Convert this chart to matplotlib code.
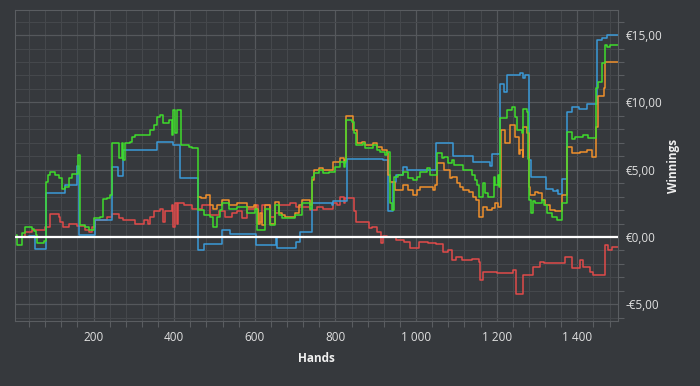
import numpy as np
import matplotlib.pyplot as plt
from matplotlib.ticker import MultipleLocator, FuncFormatter

plt.rcParams['font.family'] = ['Open Sans', 'DejaVu Sans']

# hand numbers / winnings (EUR), drawn as steps
blue_h = [5, 40, 55, 83, 130, 160, 165, 204, 245, 260, 274, 358, 398, 415, 458, 474,
          518, 538, 603, 653, 655, 703, 711, 741, 791, 795, 828, 919, 931, 942, 950,
          968, 977, 1050, 1091, 1142, 1184, 1188, 1207, 1219, 1225, 1258, 1264, 1270,
          1279, 1284, 1322, 1340, 1349, 1353, 1361, 1375, 1386, 1403, 1423, 1448, 1460,
          1473, 1500]
blue_v = [0.0, 0.05, -0.9, 3.24, 3.86, 5.3, 0.15, 1.25, 5.22, 4.5, 6.5, 7.07, 6.83, 4.35,
          -0.97, -0.52, 0.5, 0.26, -0.58, 0.0, -0.85, -0.35, 0.4, 2.5, 2.36, 2.64, 5.77,
          5.72, 1.9, 4.1, 4.6, 5.22, 4.97, 6.95, 6.0, 5.6, 5.3, 6.15, 11.4, 10.8, 12.0,
          12.2, 11.8, 12.03, 5.72, 4.48, 3.6, 3.4, 3.48, 3.18, 4.3, 9.3, 9.63, 9.5, 9.9,
          14.6, 14.75, 15.0, 15.0]

green_h = [5, 11, 22, 30, 47, 52, 57, 59, 76, 82, 86, 91, 105, 113, 121, 130, 138, 146,
           161, 167, 179, 188, 202, 216, 223, 233, 241, 245, 258, 262, 270, 274, 278,
           291, 295, 303, 324, 340, 349, 357, 365, 373, 386, 394, 397, 403, 407, 417,
           436, 445, 458, 473, 489, 497, 506, 514, 518, 535, 555, 580, 601, 605, 621,
           625, 638, 650, 659, 667, 700, 717, 737, 741, 746, 758, 770, 783, 799, 812,
           820, 824, 826, 840, 845, 851, 869, 873, 894, 902, 911, 923, 929, 934, 940,
           944, 956, 968, 981, 993, 1002, 1010, 1026, 1035, 1051, 1064, 1068, 1080,
           1089, 1093, 1117, 1138, 1146, 1150, 1155, 1165, 1171, 1179, 1192, 1196,
           1202, 1206, 1208, 1225, 1238, 1245, 1250, 1262, 1264, 1274, 1277, 1279,
           1284, 1291, 1295, 1312, 1316, 1324, 1336, 1349, 1361, 1375, 1386, 1394,
           1415, 1427, 1446, 1450, 1460, 1469, 1473, 1481, 1500]
green_v = [0.15, -0.6, 0.27, 0.78, 0.6, 0.42, 0.15, -0.44, -0.3, 4.1, 4.6, 4.85, 4.6,
           4.35, 3.6, 3.7, 4.35, 4.7, 6.08, 0.88, 0.75, 0.55, 1.4, 1.5, 2.8, 2.9, 3.1,
           7.0, 6.96, 5.84, 6.96, 5.72, 6.96, 7.08, 7.45, 7.57, 7.6, 7.95, 8.32, 8.9,
           9.06, 8.44, 8.69, 7.57, 9.43, 7.7, 9.43, 6.84, 6.71, 6.6, 2.0, 1.64, 1.5,
           0.77, 1.5, 2.0, 2.5, 2.1, 2.23, 1.75, 2.1, 0.5, 0.52, 2.1, 0.89, 2.36, 1.63,
           1.38, 1.63, 2.5, 2.1, 4.43, 4.73, 4.97, 4.73, 4.85, 5.22, 5.59, 5.22, 5.59,
           8.7, 8.57, 7.7, 6.84, 6.96, 6.6, 6.84, 6.46, 6.35, 6.1, 6.35, 2.5, 2.0, 4.43,
           4.6, 4.85, 4.35, 4.2, 4.48, 4.85, 5.1, 4.6, 6.22, 5.85, 5.97, 5.47, 5.72,
           5.35, 4.98, 4.6, 4.24, 3.86, 3.0, 3.98, 3.25, 3.0, 4.48, 3.86, 4.6, 3.74,
           8.81, 9.43, 9.68, 8.94, 7.95, 7.7, 9.5, 9.3, 5.8, 2.75, 1.76, 2.64, 2.5, 2.75,
           2.4, 1.76, 1.5, 1.27, 2.5, 7.83, 7.3, 7.44, 7.57, 7.32, 11.1, 11.5, 12.9,
           14.26, 14.1, 14.26, 14.26]

orange_h = [458, 466, 480, 489, 497, 506, 518, 535, 555, 580, 597, 603, 609, 613, 617,
            625, 638, 650, 659, 667, 675, 700, 709, 717, 737, 741, 746, 758, 770, 795,
            812, 820, 824, 826, 843, 853, 865, 873, 894, 902, 915, 927, 931, 935, 948,
            968, 981, 993, 1002, 1010, 1043, 1047, 1051, 1068, 1085, 1089, 1101, 1109,
            1117, 1130, 1142, 1149, 1155, 1167, 1175, 1188, 1196, 1204, 1210, 1221,
            1233, 1245, 1254, 1258, 1264, 1266, 1274, 1279, 1283, 1295, 1303, 1312,
            1320, 1332, 1345, 1361, 1375, 1386, 1407, 1423, 1436, 1446, 1452, 1465,
            1469, 1500]
orange_v = [2.97, 2.9, 3.1, 2.36, 2.06, 2.36, 2.74, 2.36, 2.5, 2.23, 2.36, 2.06, 1.0,
            1.75, 0.87, 2.36, 1.0, 2.6, 1.75, 1.63, 1.51, 1.75, 2.36, 2.74, 2.36, 4.2,
            4.97, 5.15, 4.97, 5.6, 5.84, 5.52, 5.72, 8.98, 7.95, 6.96, 7.08, 6.84, 6.96,
            6.71, 6.46, 6.22, 4.6, 4.1, 3.48, 3.86, 3.48, 3.1, 3.48, 3.74, 3.5, 3.86,
            5.47, 4.98, 4.36, 4.48, 4.0, 3.74, 3.5, 3.37, 3.0, 2.75, 1.51, 2.25, 2.0,
            2.12, 2.5, 2.25, 7.95, 6.96, 8.3, 7.45, 6.2, 6.46, 5.96, 8.2, 7.7, 3.74,
            3.12, 3.36, 3.25, 2.75, 2.4, 2.0, 1.9, 3.12, 6.7, 6.22, 6.34, 6.46, 5.96,
            8.2, 10.5, 11.1, 13.0, 13.0]

red_h = [5, 30, 47, 80, 91, 113, 117, 125, 138, 160, 179, 188, 196, 204, 233, 245, 262,
         274, 303, 324, 335, 340, 349, 365, 373, 378, 394, 398, 403, 407, 410, 425, 445,
         470, 489, 510, 526, 543, 555, 568, 580, 601, 609, 617, 638, 650, 659, 688, 703,
         737, 754, 770, 795, 804, 812, 820, 824, 845, 851, 869, 882, 890, 903, 912, 919,
         927, 950, 970, 985, 1008, 1030, 1050, 1067, 1080, 1088, 1100, 1113, 1138, 1155,
         1159, 1167, 1200, 1241, 1248, 1262, 1266, 1291, 1308, 1316, 1370, 1386, 1407,
         1415, 1432, 1440, 1465, 1469, 1477, 1485, 1500]
red_v = [0.0, 0.4, 0.52, 0.77, 1.74, 1.5, 1.14, 0.77, 1.0, 0.8, 0.52, 0.4, 0.77, 1.25,
         1.5, 1.7, 1.38, 1.25, 1.0, 1.25, 1.0, 1.5, 1.97, 2.1, 1.14, 1.97, 2.36, 0.77,
         2.5, 1.0, 2.5, 2.36, 2.1, 2.36, 1.63, 1.97, 1.5, 1.75, 1.97, 1.38, 2.1, 2.36,
         1.14, 2.36, 1.5, 1.75, 2.36, 2.5, 2.23, 2.0, 2.2, 2.1, 2.5, 2.36, 3.0, 2.5,
         2.87, 1.9, 1.09, 1.09, 0.64, 0.77, 0.4, -0.47, 0.1, 0.02, -0.22, -0.35, -0.84,
         -0.35, -0.47, -0.55, -1.09, -1.0, -1.71, -1.46, -1.71, -1.65, -1.83, -3.2,
         -2.57, -2.7, -2.45, -4.2, -4.2, -2.82, -2.2, -1.83, -1.95, -1.46, -2.33, -1.71,
         -2.2, -2.6, -2.82, -2.82, -0.59, -0.96, -0.72, -0.72]

bg = '#36393d'
fig = plt.figure(figsize=(7, 3.86), dpi=100, facecolor=bg)
ax = fig.add_axes([0.0214, 0.1676, 0.861, 0.8057], facecolor=bg)

ax.plot(red_h, red_v, color='#e04a4a', lw=1.1, drawstyle='steps-post')
ax.plot(blue_h, blue_v, color='#3b9ad8', lw=1.1, drawstyle='steps-post')
ax.plot(orange_h, orange_v, color='#f0902c', lw=1.1, drawstyle='steps-post')
ax.plot(green_h, green_v, color='#3fdc2c', lw=1.1, drawstyle='steps-post')
ax.axhline(0, color='white', lw=1.6, zorder=5)

ax.set_xlim(5, 1500)
ax.set_ylim(-6.26, 16.84)

ax.xaxis.set_major_locator(MultipleLocator(200))
ax.xaxis.set_minor_locator(MultipleLocator(40))
ax.yaxis.set_major_locator(MultipleLocator(5))
ax.yaxis.set_minor_locator(MultipleLocator(1))
ax.xaxis.set_major_formatter(FuncFormatter(lambda v, p: f'{int(v):,}'.replace(',', ' ')))
ax.yaxis.set_major_formatter(FuncFormatter(
    lambda v, p: ('-' if v < 0 else '') + '€' + f'{abs(v):.2f}'.replace('.', ',')))

ax.grid(which='major', color='#55585c', lw=0.9)
ax.grid(which='minor', color='#45484c', lw=0.8)
ax.set_axisbelow(True)

ax.yaxis.tick_right()
ax.yaxis.set_label_position('right')
ax.tick_params(which='both', colors='#5a5d61', labelcolor='#e0e0e0', labelsize=8.5)
ax.tick_params(which='major', length=0, pad=6)
ax.tick_params(axis='x', which='minor', length=4, width=0.8)
ax.tick_params(axis='y', which='minor', length=4, width=0.8)
ax.tick_params(axis='x', which='major', pad=7)

for s in ax.spines.values():
    s.set_color('#5a5d61')

ax.set_xlabel('Hands', color='#f0f0f0', fontsize=8.5, fontweight='bold')
ax.set_ylabel('Winnings', color='#f0f0f0', fontsize=8.5, fontweight='bold')
ax.xaxis.set_label_coords(0.5, -0.118)
ax.xaxis.label.set_va('center')
ax.yaxis.set_label_coords(1.092, 0.5)
ax.yaxis.label.set_va('center')
ax.yaxis.label.set_ha('center')

plt.savefig('out.png', dpi=100, facecolor=bg)
